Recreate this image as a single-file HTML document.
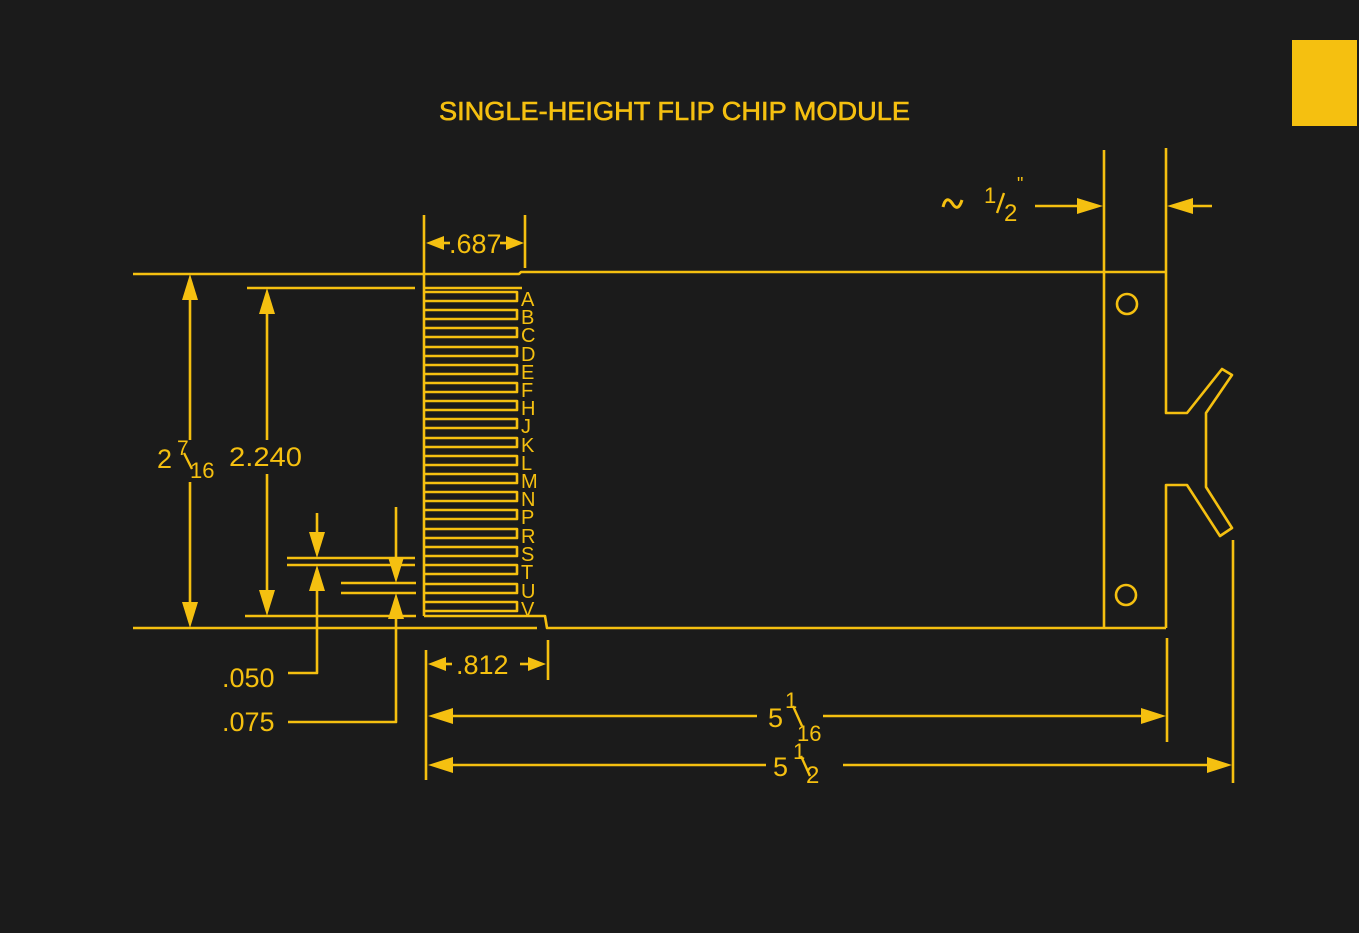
<!DOCTYPE html>
<html><head><meta charset="utf-8"><style>
html,body{margin:0;padding:0;background:#1b1b1b;}
svg{display:block}
text{font-family:"Liberation Sans",sans-serif;fill:#f5c010}
</style></head><body>
<svg width="1359" height="933" viewBox="0 0 1359 933" xmlns="http://www.w3.org/2000/svg">
<rect width="1359" height="933" fill="#1b1b1b"/>
<rect x="1292" y="40" width="65" height="86" fill="#f5c010"/>
<text x="439" y="120" font-size="26" stroke="#f5c010" stroke-width="0.6" textLength="471" lengthAdjust="spacingAndGlyphs">SINGLE-HEIGHT  FLIP CHIP  MODULE</text>
<g stroke="#f5c010" stroke-width="2.6" fill="none" stroke-linejoin="round">
<polyline points="133,274 519,274 521,272 1166,272"/>
<polyline points="133,628 537,628"/>
<polyline points="424,616 545,616 547,628 1166,628"/>
<line x1="424" y1="287" x2="424" y2="616"/>
<line x1="424" y1="288" x2="522" y2="288"/>
<line x1="1104" y1="150" x2="1104" y2="628"/>
<polyline points="1166,148 1166,413 1187,413 1222,369 1232,375 1206,413 1206,487 1232,528 1220,536 1187,485 1166,485 1166,628"/>
<circle cx="1127" cy="304" r="10"/>
<circle cx="1126" cy="595" r="10"/>
<path d="M424,292H517V301H424 M424,310H517V319H424 M424,328H517V337H424 M424,347H517V356H424 M424,365H517V374H424 M424,383H517V392H424 M424,401H517V410H424 M424,419H517V428H424 M424,438H517V447H424 M424,456H517V465H424 M424,474H517V483H424 M424,492H517V501H424 M424,510H517V519H424 M424,529H517V538H424 M424,547H517V556H424 M424,565H517V574H424 M424,584H517V593H424 M424,602H517V611H424"/>
<line x1="190" y1="290" x2="190" y2="440"/>
<line x1="190" y1="482" x2="190" y2="612"/>
<line x1="247" y1="288" x2="415" y2="288"/>
<line x1="245" y1="616" x2="416" y2="616"/>
<line x1="267" y1="300" x2="267" y2="440"/>
<line x1="267" y1="474" x2="267" y2="605"/>
<line x1="287" y1="558" x2="415" y2="558"/>
<line x1="287" y1="565" x2="415" y2="565"/>
<polyline points="317,513 317,540"/>
<polyline points="317,580 317,673 288,673"/>
<line x1="341" y1="583" x2="416" y2="583"/>
<line x1="341" y1="593" x2="416" y2="593"/>
<polyline points="396,507 396,565"/>
<polyline points="396,610 396,722 288,722"/>
<line x1="424" y1="215" x2="424" y2="287"/>
<line x1="525" y1="215" x2="525" y2="268"/>
<line x1="426" y1="650" x2="426" y2="780"/>
<line x1="548" y1="640" x2="548" y2="680"/>
<line x1="1167" y1="638" x2="1167" y2="742"/>
<line x1="1233" y1="540" x2="1233" y2="783"/>
<line x1="440" y1="716" x2="757" y2="716"/>
<line x1="823" y1="716" x2="1150" y2="716"/>
<line x1="440" y1="765" x2="766" y2="765"/>
<line x1="843" y1="765" x2="1215" y2="765"/>
<line x1="442" y1="664" x2="452" y2="664"/>
<line x1="520" y1="664" x2="532" y2="664"/>
<line x1="440" y1="243" x2="450" y2="243"/>
<line x1="500" y1="243" x2="510" y2="243"/>
<line x1="1035" y1="206" x2="1085" y2="206"/>
<line x1="1185" y1="206" x2="1212" y2="206"/>
<path d="M943,207 q3,-12 9,-4 q6,10 10,-3" stroke-width="3"/>
<line x1="184" y1="453" x2="192" y2="469" stroke-width="2.4"/>
<line x1="793" y1="706" x2="802" y2="726" stroke-width="2.4"/>
<line x1="801" y1="756" x2="810" y2="776" stroke-width="2.4"/>
<line x1="997" y1="213" x2="1004" y2="193" stroke-width="2.4"/>
</g>
<g fill="#f5c010">
<polygon points="190,274 182,300 198,300"/>
<polygon points="190,628 182,602 198,602"/>
<polygon points="267,288 259,314 275,314"/>
<polygon points="267,616 259,590 275,590"/>
<polygon points="317,558 309,532 325,532"/>
<polygon points="317,565 309,591 325,591"/>
<polygon points="396,583 388,557 404,557"/>
<polygon points="396,593 388,619 404,619"/>
<polygon points="426,243 444,236 444,250"/>
<polygon points="524,243 506,236 506,250"/>
<polygon points="428,664 446,657 446,671"/>
<polygon points="546,664 528,657 528,671"/>
<polygon points="428,716 453,708 453,724"/>
<polygon points="1166,716 1141,708 1141,724"/>
<polygon points="428,765 453,757 453,773"/>
<polygon points="1232,765 1207,757 1207,773"/>
<polygon points="1103,206 1077,198 1077,214"/>
<polygon points="1167,206 1193,198 1193,214"/>
</g>
<g font-size="20">
<text x="521" y="306">A</text><text x="521" y="324">B</text><text x="521" y="342">C</text><text x="521" y="361">D</text><text x="521" y="379">E</text><text x="521" y="397">F</text><text x="521" y="415">H</text><text x="521" y="433">J</text><text x="521" y="452">K</text><text x="521" y="470">L</text><text x="521" y="488">M</text><text x="521" y="506">N</text><text x="521" y="524">P</text><text x="521" y="543">R</text><text x="521" y="561">S</text><text x="521" y="579">T</text><text x="521" y="598">U</text><text x="521" y="616">V</text>
</g>
<g font-size="27">
<text x="157" y="468">2</text>
<text x="177" y="455" font-size="21">7</text>
<text x="190" y="478" font-size="22">16</text>
<text x="229" y="466" textLength="73" lengthAdjust="spacingAndGlyphs">2.240</text>
<text x="449" y="253">.687</text>
<text x="456" y="674">.812</text>
<text x="222" y="687">.050</text>
<text x="222" y="731">.075</text>
<text x="768" y="727">5</text>
<text x="785" y="708" font-size="22">1</text>
<text x="797" y="741" font-size="22">16</text>
<text x="773" y="776">5</text>
<text x="793" y="759" font-size="22">1</text>
<text x="806" y="783" font-size="24">2</text>
<text x="984" y="203" font-size="22">1</text>
<text x="1004" y="221" font-size="24">2</text>
<text x="1017" y="190" font-size="18">"</text>
</g>
</svg>
</body></html>
